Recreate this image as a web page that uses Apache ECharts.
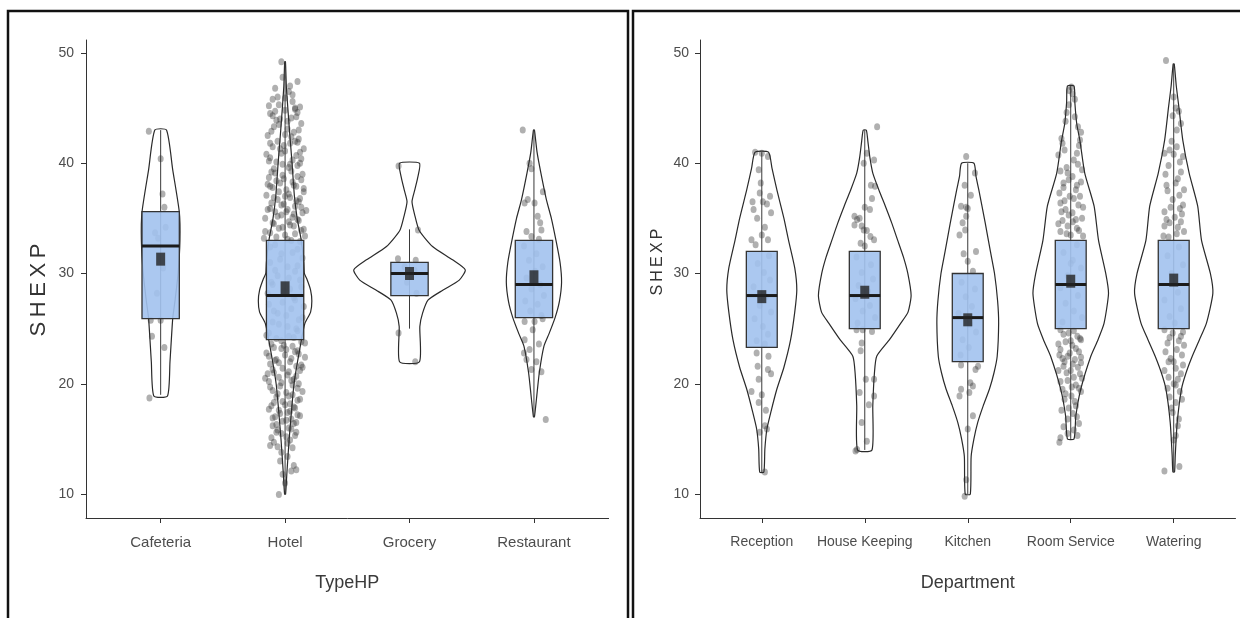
<!DOCTYPE html>
<html><head><meta charset="utf-8">
<script src="https://cdn.jsdelivr.net/npm/echarts@6/dist/echarts.min.js"></script>
<style>html,body{margin:0;padding:0;background:#fff}#c{width:1240px;height:618px}</style>
</head><body><div id="c"></div>
<script>
// ---------- LEFT PANEL DATA (TypeHP) ----------
const leftCats = ['Cafeteria', 'Hotel', 'Grocery', 'Restaurant'];
const leftQ1 = [25.9, 24.0, 28.0, 26.0];
const leftMedian = [32.5, 28.0, 30.0, 29.0];
const leftQ3 = [35.6, 33.0, 31.0, 33.0];
const leftMean = [31.3, 28.7, 30.0, 29.7];
const leftWhiskerLow = [19.0, 10.0, 25.0, 17.0];
const leftWhiskerHigh = [43.0, 49.2, 34.0, 43.0];
// violin outlines: [value, half width in category units], top to bottom
const violinCafeteria = [[43,0.047],[39.4,0.097],[35.56,0.15],[33,0.155],[30,0.14],[27.5,0.115],[25.93,0.097],[22,0.075],[18.9,0.055]];
const violinHotel = [[49.2,0.003],[47,0.01],[45,0.022],[43,0.035],[40,0.056],[37,0.075],[35,0.097],[33,0.13],[31,0.15],[30,0.155],[29.5,0.175],[28.5,0.205],[27.5,0.215],[26.5,0.205],[25.5,0.16],[24.5,0.14],[22,0.1],[20,0.072],[18,0.055],[15,0.033],[12,0.015],[10,0.004]];
const violinGrocery = [[40,0.08],[38.8,0.068],[37.6,0.043],[36.5,0.02],[35.2,0.044],[33.9,0.078],[32.45,0.185],[31.24,0.346],[30.33,0.448],[29.4,0.40],[28.5,0.27],[27.6,0.15],[26.4,0.105],[25.2,0.083],[22,0.08]];
const violinRestaurant = [[43,0.004],[41,0.025],[39.1,0.056],[36.7,0.1],[35,0.14],[33,0.177],[31,0.21],[29.2,0.222],[27.5,0.205],[26,0.17],[24.5,0.12],[23.4,0.08],[21,0.043],[18.6,0.02],[17,0.004]];
// jittered observations: [x offset in category units, value]
const ptsCafeteria = [[-0.095,42.9],[0,40.4],[0.015,37.2],[0.03,36.0],[0.04,34.2],[-0.045,33.7],[-0.02,33.2],[0.02,30.5],[-0.03,28.2],[-0.08,25.75],[0,25.75],[-0.07,24.3],[0.03,23.3],[-0.09,18.7]];
const ptsHotel = [[-0.03,49.2],[0.1,47.4],[-0.08,46.8],[0.03,46.5],[-0.1,45.8],[0.06,45.6],[-0.05,45.3],[0.12,45.1],[-0.13,45.2],[0.0,45.9],[0.08,44.9],[-0.02,47.8],
[-0.12,44.5],[0.09,44.2],[-0.04,44.0],[0.13,43.6],[-0.09,43.3],[0.02,43.1],[0.07,42.8],[-0.14,42.5],[0.11,42.2],[-0.06,42.0],[0.04,41.8],[-0.1,41.5],[0.15,41.3],[0.0,41.1],[-0.03,40.9],[0.09,40.7],[-0.12,40.5],[0.06,40.3],[-0.07,40.1],[0.12,40.0],[0.02,43.8],[-0.08,44.7],[0.05,42.4],[-0.01,41.6],[0.1,41.9],[-0.15,40.8],[0.14,39.0],[-0.05,43.5],[0.08,45.0],[-0.11,39.2],[0.03,39.6],[-0.02,38.9],
[0.1,39.8],[-0.09,39.5],[0.05,39.3],[-0.13,38.7],[0.13,38.5],[-0.04,38.2],[0.07,38.0],[-0.1,37.8],[0.01,37.6],[0.15,37.4],[-0.15,37.1],[0.04,36.9],[-0.06,36.7],[0.11,36.5],[-0.01,36.3],[0.08,36.1],[-0.12,35.9],[0.02,35.8],[-0.08,35.6],[0.14,35.5],[-0.03,35.3],[0.06,35.1],[-0.16,35.0],[0.1,34.9],[0.0,37.0],[-0.07,38.4],[0.09,37.9],[-0.11,36.4],[0.12,36.8],[-0.02,39.9],[0.17,35.7],[-0.14,38.1],[0.03,34.7],[-0.09,34.5],[0.07,34.3],[-0.05,34.1],[0.13,33.9],[-0.12,33.7],[0.0,33.5],[0.16,33.4],
[-0.17,33.2],[0.05,33.0],[-0.08,32.6],[0.1,32.2],[-0.03,31.8],[0.14,31.4],[-0.12,31.0],[0.02,30.6],[0.08,30.2],[-0.06,29.8],[0.12,29.4],[-0.1,29.0],[0.04,28.6],[-0.14,28.2],[0.07,27.8],[-0.02,27.4],[0.15,27.0],[-0.09,26.6],[0.01,26.2],[0.11,25.8],[-0.05,25.4],[0.09,25.0],[-0.13,24.6],[0.03,24.3],[-0.07,24.1],
[0.13,23.8],[-0.11,23.6],[0.06,23.4],[-0.03,23.2],[0.1,23.0],[-0.15,22.8],[0.0,22.6],[0.16,22.4],[-0.07,22.2],[0.04,22.0],[-0.12,21.8],[0.09,21.6],[-0.02,21.4],[0.12,21.2],[-0.09,21.0],[0.02,20.8],[-0.05,20.6],[0.07,20.4],[-0.13,20.2],[0.11,20.0],[-0.01,23.5],[0.08,22.9],[-0.08,22.1],[0.14,21.5],[-0.14,20.9],[0.05,20.3],[-0.04,19.8],[0.1,19.6],[-0.1,19.4],[0.01,19.2],[0.06,19.0],[-0.07,18.8],[0.12,18.6],[-0.02,18.4],[0.04,18.2],
[-0.11,18.0],[0.08,17.8],[-0.05,17.6],[0.02,17.4],[0.1,17.2],[-0.08,17.0],[0.05,16.8],[-0.02,16.6],[0.07,16.4],[-0.1,16.2],[0.03,16.0],[-0.06,15.8],[0.09,15.6],[-0.07,15.6],[0.01,15.2],[-0.09,14.7],[0.04,14.9],[-0.12,14.4],[0.06,14.2],[-0.03,13.8],
[0.02,13.4],[-0.04,13.0],[0.07,12.6],[0.05,12.1],[0.09,12.2],[-0.02,11.8],[0.0,11.0],[-0.05,9.95],
[0.05,44.1],[-0.07,43.9],[0.11,43.0],[-0.11,42.9],[0.0,42.6],[0.08,42.0],[-0.04,41.3],[0.13,40.4],[-0.13,40.2],[0.04,39.9],
[-0.08,39.1],[0.1,38.8],[-0.01,38.6],[0.06,38.3],[-0.12,37.9],[0.15,37.7],[-0.05,37.4],[0.03,37.2],[-0.09,36.9],[0.09,36.6],
[-0.03,36.2],[0.13,36.0],[-0.14,35.8],[0.01,35.6],[0.07,35.4],[-0.06,35.2],[0.11,34.8],[-0.1,34.6],[0.04,34.4],[-0.02,34.2],
[0.15,34.0],[-0.16,33.8],[0.08,33.6],[-0.07,33.3],[0.02,33.1],[0.12,32.9],[-0.12,32.4],[0.06,31.9],[-0.04,31.3],[0.1,30.7],
[-0.08,30.3],[0.03,29.6],[-0.11,29.2],[0.13,28.8],[-0.01,28.4],[0.08,27.6],[-0.13,27.2],[0.05,26.8],[-0.06,26.4],[0.14,26.0],
[-0.1,25.6],[0.02,25.2],[0.1,24.8],[-0.15,24.4],[0.07,24.2],[-0.03,23.9],[0.16,23.7],[-0.09,23.3],[0.01,23.1],[0.11,22.7],
[-0.13,22.5],[0.05,22.3],[-0.05,21.9],[0.13,21.7],[-0.1,21.3],[0.03,21.1],[0.09,20.7],[-0.16,20.5],[-0.03,20.1],[0.06,19.9],
[-0.12,19.7],[0.14,19.3],[-0.06,19.1],[0.03,18.9],[0.1,18.5],[-0.09,18.3],[0.0,18.1],[0.07,17.9],[-0.13,17.7],[0.04,17.5],
[-0.04,17.3],[0.12,17.1],[-0.1,16.9],[0.01,16.7],[0.09,16.5],[-0.07,16.3],[0.05,15.9],[-0.03,15.5],[0.08,15.3],[-0.11,15.1],
[0.02,14.6],[-0.06,14.3],[0.1,44.6],[-0.1,44.3],[0.0,44.8],[0.06,46.2],[-0.06,46.0],[0.04,47.0],[0.12,41.0],[-0.12,41.8]];
const ptsGrocery = [[-0.088,39.75],[0.068,33.95],[-0.093,31.33],[0.05,31.2],[-0.04,30.6],[0.04,30.3],[0.056,28.2],[-0.02,29.2],[-0.088,24.6],[0.046,22.0]];
const ptsRestaurant = [[-0.09,43.0],[-0.035,40.0],[-0.02,39.5],[0.072,37.4],[-0.05,36.7],[-0.075,36.4],[0.005,36.4],[0.03,35.2],[0.05,34.6],[0.06,33.95],[-0.06,33.8],[-0.02,33.35],[0.04,33.1],[-0.08,32.5],[0.02,31.8],[-0.04,31.2],[0.07,30.6],[0.01,30.2],[-0.06,29.6],[0.05,29.0],[-0.02,28.6],[0.08,28.0],[-0.07,27.5],[0.03,27.2],[-0.03,26.6],[0.06,26.2],[-0.075,25.65],[0.005,25.65],[0.07,25.9],[-0.01,24.9],[-0.075,24.0],[0.04,23.6],[-0.035,23.1],[-0.08,22.8],[-0.06,22.2],[0.02,22.0],[-0.02,21.3],[0.06,21.1],[0.095,16.75]];

// ---------- RIGHT PANEL DATA (Department) ----------
const rightCats = ['Reception', 'House Keeping', 'Kitchen', 'Room Service', 'Watering'];
const rightQ1 = [23.3, 25.0, 22.0, 25.0, 25.0];
const rightMedian = [28.0, 28.0, 26.0, 29.0, 29.0];
const rightQ3 = [32.0, 32.0, 30.0, 33.0, 33.0];
const rightMean = [27.9, 28.3, 25.8, 29.3, 29.4];
const rightWhiskerLow = [12.0, 14.0, 10.0, 15.0, 12.0];
const rightWhiskerHigh = [41.0, 43.0, 40.0, 47.0, 49.0];
const violinReception = [[41,0.065],[39.5,0.1],[37.6,0.146],[35,0.215],[33,0.26],[30.5,0.32],[28.5,0.34],[26.5,0.32],[24,0.28],[21.5,0.215],[19.5,0.146],[17.5,0.09],[15.9,0.05],[14.1,0.03],[12,0.02]];
const violinHouseKeeping = [[43,0.015],[42,0.03],[40.5,0.05],[39.1,0.078],[37.5,0.14],[36.1,0.2],[34.5,0.265],[33,0.32],[31.5,0.375],[30,0.418],[28,0.45],[26.5,0.42],[25.5,0.35],[24,0.24],[22.5,0.116],[21,0.094],[18,0.078],[14,0.07]];
const violinKitchen = [[40,0.06],[38.8,0.08],[37.6,0.107],[34.56,0.17],[32,0.22],[30,0.26],[27.5,0.29],[25.5,0.30],[22.5,0.286],[21,0.255],[19.5,0.21],[18,0.15],[16.5,0.097],[15,0.06],[13.4,0.033],[10,0.025]];
const violinRoomService = [[47,0.032],[45.5,0.04],[43.6,0.058],[42,0.09],[39.1,0.136],[36.1,0.227],[33,0.27],[30,0.34],[28.2,0.367],[25.5,0.324],[24,0.265],[22.5,0.195],[19.5,0.097],[17.1,0.05],[15,0.032]];
const violinWatering = [[49,0.005],[47,0.025],[45.1,0.05],[42.1,0.088],[39.1,0.15],[36.1,0.233],[33,0.27],[30,0.356],[28.2,0.38],[25.5,0.318],[24,0.25],[22.5,0.18],[21,0.12],[19.5,0.075],[16.5,0.034],[13.5,0.015],[12,0.008]];
const ptsReception = [[-0.065,41.0],[0.06,40.6],[0.0,40.9],[-0.03,39.4],[-0.02,37.3],[-0.09,36.5],[0.01,36.5],[0.05,36.3],[0.09,35.5],[-0.045,35.0],[-0.1,33.05],[0.06,33.05],[0.0,33.5],[0.03,34.2],[-0.06,32.6],[0.07,31.6],[-0.04,30.9],[0.02,30.1],[0.08,29.4],[-0.08,28.8],[0.04,27.9],[-0.02,27.1],[0.09,26.5],[-0.07,25.9],[0.01,25.2],[0.06,24.5],[-0.05,23.9],[0.03,23.6],[-0.05,22.8],[0.065,22.5],[-0.04,21.6],[0.06,21.3],[-0.03,20.4],[0.09,20.9],[-0.1,19.3],[0.0,19.0],[-0.03,18.3],[0.04,17.6],[0.03,16.2],[-0.02,15.6],[0.05,15.9],[0.03,12.0],[-0.08,35.8],[0.08,37.0],[-0.01,38.2]];
const ptsHouseKeeping = [[0.12,43.3],[0.02,40.9],[0.09,40.3],[-0.01,40.0],[0.06,38.0],[0.07,36.8],[0.05,35.8],[-0.05,35.0],[-0.075,34.9],[-0.1,35.2],[-0.1,34.4],[-0.03,34.3],[-0.01,33.95],[0.02,33.9],[0.055,33.35],[0.09,33.05],[-0.04,32.75],[0.0,32.5],[-0.08,31.5],[0.06,30.8],[-0.03,30.1],[0.08,29.5],[-0.06,28.9],[0.03,28.4],[-0.09,27.7],[0.05,27.1],[-0.02,26.6],[0.1,26.0],[-0.07,25.5],[-0.08,24.9],[-0.02,24.9],[0.07,24.75],[-0.03,23.7],[-0.04,23.0],[0.01,20.4],[0.09,20.4],[-0.05,19.2],[0.09,18.9],[0.04,18.1],[-0.03,16.5],[0.02,14.8],[-0.075,14.05],[-0.09,13.9],[0.1,37.9],[0.0,36.0]];
const ptsKitchen = [[-0.015,40.6],[0.07,39.1],[-0.03,38.0],[-0.065,36.1],[-0.015,36.0],[0.0,35.9],[-0.015,35.2],[-0.025,33.95],[-0.08,33.5],[-0.04,31.8],[0.08,32.0],[0.0,31.1],[0.05,30.2],[-0.06,29.2],[0.07,28.6],[-0.02,27.9],[0.04,27.0],[-0.09,26.4],[0.02,25.4],[0.08,24.7],[-0.05,24.0],[0.01,23.3],[-0.07,22.6],[-0.065,21.7],[0.1,21.6],[0.075,21.3],[0.025,20.1],[0.05,19.8],[-0.065,19.5],[0.015,19.2],[-0.08,18.9],[0.05,17.1],[0.0,15.9],[-0.015,11.3],[-0.03,9.8],[-0.05,34.6],[0.03,37.1]];
const ptsRoomService = [[0.007,46.9],[-0.017,46.6],[0.017,46.3],[-0.017,45.3],[0.07,43.3],[-0.09,42.25],[0.09,42.1],[0.06,40.9],[-0.12,40.75],[0.07,39.9],[-0.03,39.1],[0.017,38.8],[-0.07,38.2],[0.05,37.6],[-0.01,37.0],[-0.1,36.4],[0.075,36.2],[-0.05,35.8],[0.017,35.5],[0.11,35.0],[-0.08,34.8],[-0.03,34.3],[0.06,34.1],[-0.1,33.8],[0.0,33.5],[0.12,33.4],[0.04,44.2],[-0.05,43.8],[0.08,41.6],[-0.06,41.2],[0.1,38.3],[-0.11,37.3],[0.03,36.8],[-0.04,39.6],
[0.06,32.6],[-0.07,31.9],[0.02,31.2],[0.1,30.5],[-0.03,29.8],[-0.1,28.7],[0.07,28.0],[-0.05,27.3],[0.03,26.6],[0.11,26.0],[-0.08,25.6],[0.0,30.9],
[-0.1,24.9],[-0.02,24.6],[0.065,24.3],[-0.05,23.8],[0.015,23.5],[-0.1,23.1],[0.08,22.9],[-0.03,22.5],[0.04,22.2],[-0.07,21.6],[-0.12,21.2],[0.0,21.2],[0.09,20.9],[-0.03,20.3],[0.05,19.9],[-0.08,19.5],[0.007,18.9],[0.05,18.0],[-0.03,16.8],[0.08,16.4],[-0.1,15.1],[0.065,15.3],[-0.11,14.7],[0.1,24.0],[-0.06,22.0],[0.03,20.6],[-0.05,19.1],[0.1,19.3],[-0.09,17.6],[0.02,17.3],
[0.04,45.8],[-0.04,44.6],[0.1,42.8],[-0.08,41.8],[0.03,40.3],[-0.1,39.3],[0.09,37.0],[-0.06,36.6],[0.12,36.0],[-0.02,35.3],
[0.05,34.9],[-0.12,34.5],[0.08,33.9],[-0.04,33.6],[0.02,34.7],[-0.09,35.6],[0.06,38.0],[-0.02,38.5],[0.11,39.4],[-0.07,37.8],
[0.03,24.8],[-0.07,24.5],[0.09,24.1],[-0.12,23.6],[0.05,23.2],[-0.01,22.8],[0.1,22.4],[-0.08,22.3],[0.02,21.8],[0.07,21.5],
[-0.04,21.0],[0.11,20.5],[-0.1,20.2],[0.01,19.7],[0.08,19.6],[-0.06,18.6],[0.04,18.4],[-0.02,17.8],[0.06,17.0],[-0.07,16.1],
[0.03,15.8],[-0.03,15.5],[0.1,21.9],[-0.11,22.6],[0.0,23.9]];
const ptsWatering = [[-0.075,49.3],[0.02,45.0],[0.05,44.7],[-0.01,44.3],[0.07,43.6],[-0.09,40.9],[0.0,40.8],[0.09,40.6],[-0.05,39.8],[0.07,39.2],[0.04,38.6],[-0.07,38.0],[0.055,37.1],[-0.01,36.7],[0.09,36.2],[-0.09,35.6],[0.01,35.1],[0.07,34.7],[-0.04,34.6],[0.04,34.2],[-0.09,34.3],[0.1,33.8],[-0.02,42.0],[0.03,41.5],[-0.06,37.5],[0.08,35.4],[-0.1,33.4],
[0.05,32.4],[-0.06,31.6],[0.09,30.8],[-0.02,30.0],[0.04,28.3],[-0.09,27.6],[0.07,26.8],[-0.04,26.1],[0.01,25.5],
[-0.09,24.9],[-0.01,24.6],[0.07,24.3],[-0.06,23.7],[0.03,23.1],[0.08,22.6],[-0.03,22.3],[0.02,21.4],[-0.09,21.2],[0.07,20.9],[0.0,20.0],[0.06,19.3],[0.02,18.3],[-0.01,17.4],[0.05,16.8],[0.02,15.3],[-0.09,12.1],[0.055,12.5],[-0.05,22.0],[0.04,20.4],[-0.04,18.8],[0.1,23.5],
[0.0,46.0],[0.03,43.0],[-0.04,41.2],[0.06,40.1],[-0.08,39.0],[0.02,38.2],[0.1,37.6],[-0.03,36.0],[0.06,35.9],[-0.07,34.9],
[0.03,33.6],[-0.05,33.3],[0.09,24.7],[-0.04,24.2],[0.05,23.9],[-0.08,22.9],[0.0,22.0],[0.09,21.7],[-0.05,20.6],[0.02,19.9],
[-0.06,19.6],[0.08,18.6],[-0.02,17.8],[0.04,16.2],[0.0,14.9]];

const yTicks = [10, 20, 30, 40, 50];
const yMin = 7.83, yMax = 51.17;

const FONT = "'Liberation Sans',Arial,sans-serif";
const AX = '#333333';

function panelSeries(g, shapes, pts, q1, med, q3, mean, wlo, whi) {
  const idx = shapes.map((s, i) => i + 1);
  const pointData = [];
  pts.forEach((arr, i) => arr.forEach(p => pointData.push([i + 1 + p[0], p[1]])));
  return [
    { type: 'custom', xAxisIndex: g, yAxisIndex: g, z: 1, silent: true,
      data: idx.map(i => [i]),
      renderItem: (params, api) => {
        const c = api.value(0), sh = shapes[params.dataIndex];
        const right = sh.map(p => api.coord([c + p[1], p[0]]));
        const left = sh.slice().reverse().map(p => api.coord([c - p[1], p[0]]));
        return { type: 'polygon', shape: { points: right.concat(left), smooth: 0.2 },
          style: { fill: '#ffffff', stroke: '#2a2a2a', lineWidth: 1.2 } };
      } },
    { type: 'custom', xAxisIndex: g, yAxisIndex: g, z: 2, silent: true,
      data: idx.map((i, k) => [i, wlo[k], whi[k]]),
      renderItem: (params, api) => {
        const a = api.coord([api.value(0), api.value(1)]);
        const b = api.coord([api.value(0), api.value(2)]);
        return { type: 'line', shape: { x1: a[0], y1: a[1], x2: b[0], y2: b[1] },
          style: { stroke: '#3a3a3a', lineWidth: 1 } };
      } },
    { type: 'scatter', xAxisIndex: g, yAxisIndex: g, z: 3, silent: true,
      data: pointData, symbol: 'circle', symbolSize: [6, 7],
      itemStyle: { color: 'rgba(50,50,50,0.48)' } },
    { type: 'custom', xAxisIndex: g, yAxisIndex: g, z: 4, silent: true,
      data: idx.map((i, k) => [i, q1[k], med[k], q3[k]]),
      renderItem: (params, api) => {
        const c = api.value(0);
        const tl = api.coord([c - 0.15, api.value(3)]);
        const br = api.coord([c + 0.15, api.value(1)]);
        const ml = api.coord([c - 0.15, api.value(2)]);
        const mr = api.coord([c + 0.15, api.value(2)]);
        return { type: 'group', children: [
          { type: 'rect', shape: { x: tl[0], y: tl[1], width: br[0] - tl[0], height: br[1] - tl[1] },
            style: { fill: 'rgba(162,194,238,0.9)', stroke: '#333', lineWidth: 1.3 } },
          { type: 'line', shape: { x1: ml[0], y1: ml[1], x2: mr[0], y2: mr[1] },
            style: { stroke: '#1b1b1b', lineWidth: 3 } }
        ] };
      } },
    { type: 'scatter', xAxisIndex: g, yAxisIndex: g, z: 5, silent: true,
      data: mean.map((m, k) => [k + 1, m]), symbol: 'rect', symbolSize: [9, 13],
      itemStyle: { color: '#222222' } }
  ];
}

function xAxisCfg(g, cats, name, fs) {
  const vals = cats.map((c, i) => i + 1);
  return { type: 'value', gridIndex: g, min: 0.4, max: cats.length + 0.6,
    splitLine: { show: false },
    axisLine: { show: true, onZero: false, lineStyle: { color: AX, width: 1 } },
    axisTick: { show: true, customValues: vals, length: 5, lineStyle: { color: AX, width: 1 } },
    axisLabel: { customValues: vals, formatter: v => cats[Math.round(v) - 1], fontFamily: FONT,
      fontSize: fs, color: '#4d4d4d', margin: 17 },
    name: name, nameLocation: 'middle', nameGap: 56,
    nameTextStyle: { fontFamily: FONT, fontSize: 18, color: '#3a3a3a' } };
}
function yAxisCfg(g, margin) {
  return { type: 'value', gridIndex: g, min: yMin, max: yMax,
    splitLine: { show: false },
    axisLine: { show: true, lineStyle: { color: AX, width: 1 } },
    axisTick: { show: true, customValues: yTicks, length: 5, lineStyle: { color: AX, width: 1 } },
    axisLabel: { customValues: yTicks, fontFamily: FONT, fontSize: 14, color: '#4d4d4d', margin: margin } };
}

const chart = echarts.init(document.getElementById('c'), null, { renderer: 'canvas' });
chart.setOption({
  animation: false,
  backgroundColor: '#ffffff',
  grid: [
    { left: 86, top: 40, width: 522.6, height: 478 },
    { left: 700, top: 40, width: 535.5, height: 478 }
  ],
  xAxis: [xAxisCfg(0, leftCats, 'TypeHP', 15), xAxisCfg(1, rightCats, 'Department', 14)],
  yAxis: [yAxisCfg(0, 12), yAxisCfg(1, 11)],
  series: [].concat(
    panelSeries(0, [violinCafeteria, violinHotel, violinGrocery, violinRestaurant],
      [ptsCafeteria, ptsHotel, ptsGrocery, ptsRestaurant],
      leftQ1, leftMedian, leftQ3, leftMean, leftWhiskerLow, leftWhiskerHigh),
    panelSeries(1, [violinReception, violinHouseKeeping, violinKitchen, violinRoomService, violinWatering],
      [ptsReception, ptsHouseKeeping, ptsKitchen, ptsRoomService, ptsWatering],
      rightQ1, rightMedian, rightQ3, rightMean, rightWhiskerLow, rightWhiskerHigh)
  ),
  graphic: [
    { type: 'rect', silent: true, z: 100, shape: { x: 8, y: 11, width: 620, height: 640 },
      style: { fill: 'none', stroke: '#111', lineWidth: 2.5 } },
    { type: 'rect', silent: true, z: 100, shape: { x: 633, y: 11, width: 640, height: 640 },
      style: { fill: 'none', stroke: '#111', lineWidth: 2.5 } },
    { type: 'text', silent: true, x: 39, y: 290, rotation: Math.PI / 2,
      style: { text: '{a|S}{a|H}{a|E}{a|X}{a|P}', align: 'center', verticalAlign: 'middle',
        rich: { a: { fontSize: 22, fontFamily: FONT, fill: '#333', padding: [0, 2.3, 0, 2.3] } } } },
    { type: 'text', silent: true, x: 657.5, y: 262, rotation: Math.PI / 2,
      style: { text: '{a|S}{a|H}{a|E}{a|X}{a|P}', align: 'center', verticalAlign: 'middle',
        rich: { a: { fontSize: 16, fontFamily: FONT, fill: '#333', padding: [0, 1.6, 0, 1.6] } } } }
  ]
});
</script></body></html>
